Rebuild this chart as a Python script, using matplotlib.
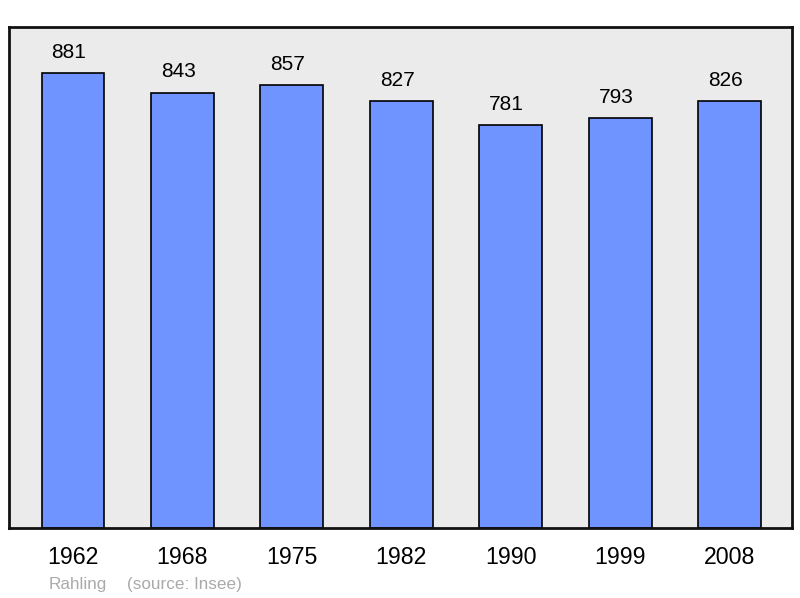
import matplotlib
matplotlib.use("Agg")
import matplotlib.pyplot as plt

plt.rcParams['font.family'] = ['Liberation Sans', 'DejaVu Sans']

years = ["1962", "1968", "1975", "1982", "1990", "1999", "2008"]
population = [881, 843, 857, 827, 781, 793, 826]

fig = plt.figure(figsize=(8.0, 5.98), dpi=100)
ax = fig.add_axes([9/800, (598-528)/598, (792-9)/800, (528-27)/598])
ax.set_facecolor('#ebebeb')

x = list(range(len(years)))
ax.bar(x, population, width=0.575, color='#7094ff', edgecolor='black', linewidth=1.2, zorder=2)
for xi, v in zip(x, population):
    ax.annotate(str(v), xy=(xi, v), xytext=(-3, 8), textcoords='offset points',
                ha='center', va='bottom', fontsize=15, color='black')

ax.set_xlim(-0.585, 6.57)
ax.set_ylim(0, 970)
ax.set_yticks([])
ax.set_xticks(x)
ax.set_xticklabels(years, fontsize=16.7)
ax.tick_params(axis='x', length=0, pad=13)
for s in ax.spines.values():
    s.set_linewidth(2)
    s.set_color('#111111')

fig.text(49/800, 1 - 584/598, "Rahling", fontsize=12.3, color='#aaaaaa', ha='left', va='center')
fig.text(127/800, 1 - 584/598, "(source: Insee)", fontsize=12.3, color='#aaaaaa', ha='left', va='center')

fig.savefig("out.png", dpi=100)
